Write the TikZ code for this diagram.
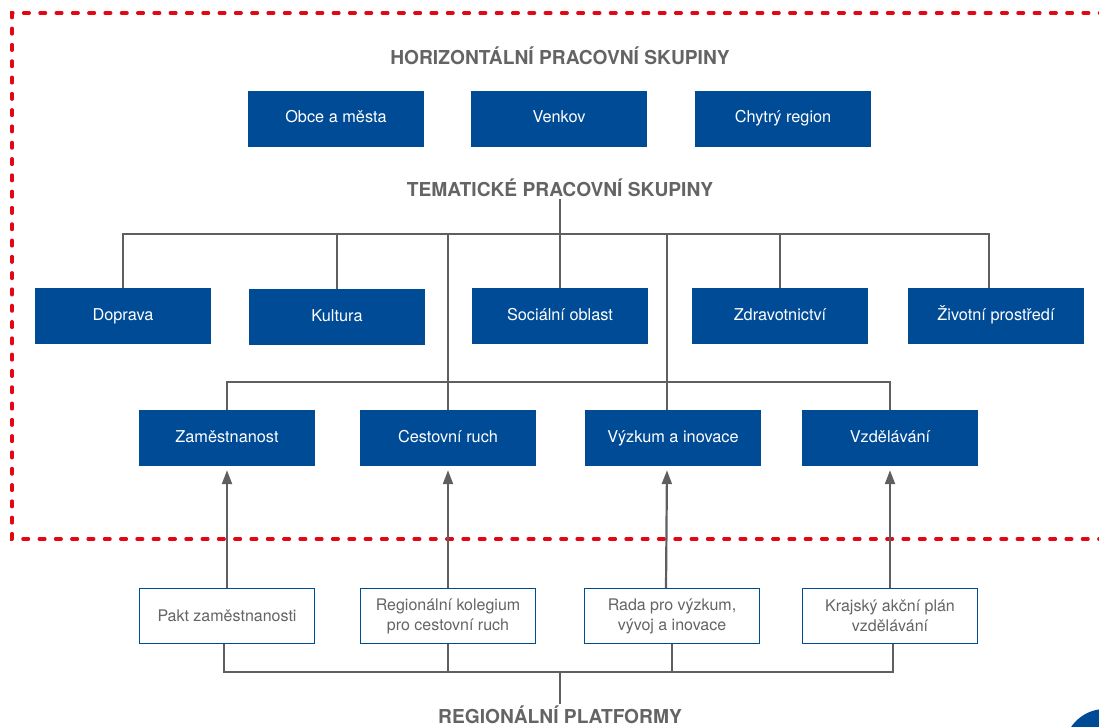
\documentclass[tikz,border=0pt]{standalone}
\usepackage{fontspec}
\setmainfont{TeX Gyre Heros}
\usetikzlibrary{arrows.meta}
\definecolor{kblue}{RGB}{0,75,150}
\definecolor{kred}{RGB}{227,6,19}
\definecolor{kgray}{RGB}{95,95,95}
\definecolor{ktext}{RGB}{100,100,100}
\tikzset{
    group/.style={fill=kblue,text=white,minimum width=176pt,minimum height=56pt,inner sep=0pt,text height=11.5pt,text depth=3.5pt,font=\fontsize{16.3}{18}\selectfont},
    platform/.style={draw=kblue,line width=1.3pt,fill=white,text=ktext,minimum width=175pt,minimum height=55pt,inner sep=0pt,align=center,font=\fontsize{16}{20}\selectfont},
    heading/.style={text=ktext,font=\fontsize{19.2}{22}\selectfont\bfseries,inner sep=2pt},
    link/.style={draw=kgray,line width=1.6pt},
    feed/.style={draw=kgray,line width=2.2pt,-{Triangle[width=10pt,length=14pt]},shorten >=4pt},
    border/.style={draw=kred,line width=3.5pt,line cap=round,dash pattern=on 5.5pt off 10.8pt}
}
\begin{document}
\begin{tikzpicture}[x=1pt,y=-1pt]
    \useasboundingbox (0,0) rectangle (1099,727);
    \draw[border] (1105,13) -- (12,13) -- (12,539) -- (1105,539);
    \fill[kblue] (1105,750) circle (41);

    \node[heading] (horiz) at (560,56) {HORIZONTÁLNÍ PRACOVNÍ SKUPINY};
    \node[group] (Obce) at (336,119) {Obce a města};
    \node[group] (Venkov) at (559,119) {Venkov};
    \node[group] (Chytry) at (783,119) {Chytrý region};

    \node[heading] (tema) at (560,188) {TEMATICKÉ PRACOVNÍ SKUPINY};
    \node[group] (Doprava) at (123,316) {Doprava};
    \node[group] (Kultura) at (337,317) {Kultura};
    \node[group] (Socialni) at (560,316) {Sociální oblast};
    \node[group] (Zdravi) at (780,316) {Zdravotnictví};
    \node[group] (Zivot) at (996,316) {Životní prostředí};

    \node[group] (Zamest) at (227,438) {Zaměstnanost};
    \node[group] (Cestovni) at (448,438) {Cestovní ruch};
    \node[group] (Vyzkum) at (673,438) {Výzkum a inovace};
    \node[group] (Vzdelani) at (890,438) {Vzdělávání};

    \node[platform] (Pakt) at (227,616) {Pakt zaměstnanosti};
    \node[platform] (Kolegium) at (448,616) {Regionální kolegium\\pro cestovní ruch};
    \node[platform] (Rada) at (672,616) {Rada pro výzkum,\\vývoj a inovace};
    \node[platform] (Krajsky) at (890,616) {Krajský akční plán\\vzdělávání};
    \node[heading,anchor=north] (platf) at (560,704) {REGIONÁLNÍ PLATFORMY};

    % tematicke skupiny
    \coordinate (hub) at (560,234);
    \coordinate (hub2) at (560,382);
    \draw[link] (tema.south) -- (Socialni.north);
    \draw[link] (Doprava.north) |- (hub) -| ([xshift=-7pt]Zivot.north);
    \draw[link] (Kultura.north) -- (Kultura.north |- hub);
    \draw[link] (Zdravi.north) -- (Zdravi.north |- hub);
    \draw[link] (Cestovni.north |- hub) -- (Cestovni.north);
    \draw[link] ([xshift=-6pt]Vyzkum.north |- hub) -- ([xshift=-6pt]Vyzkum.north);
    \draw[link] (Zamest.north) |- (hub2) -| (Vzdelani.north);

    % regionalni platformy
    \draw[feed] (Pakt.north) -- (Zamest.south);
    \draw[feed] (Kolegium.north) -- (Cestovni.south);
    \draw[feed] ([xshift=-6pt]Rada.north) -- ([xshift=-6pt]Vyzkum.south);
    \draw[feed] (Krajsky.north) -- (Vzdelani.south);
    \coordinate (base) at (560,672);
    \draw[link] ([xshift=-3pt]Pakt.south) |- (base) -| ([xshift=3pt]Krajsky.south);
    \draw[link] (Kolegium.south) -- (Kolegium.south |- base);
    \draw[link] (Rada.south) -- (Rada.south |- base);
    \draw[link] (base) -- (platf.north);
\end{tikzpicture}
\end{document}
